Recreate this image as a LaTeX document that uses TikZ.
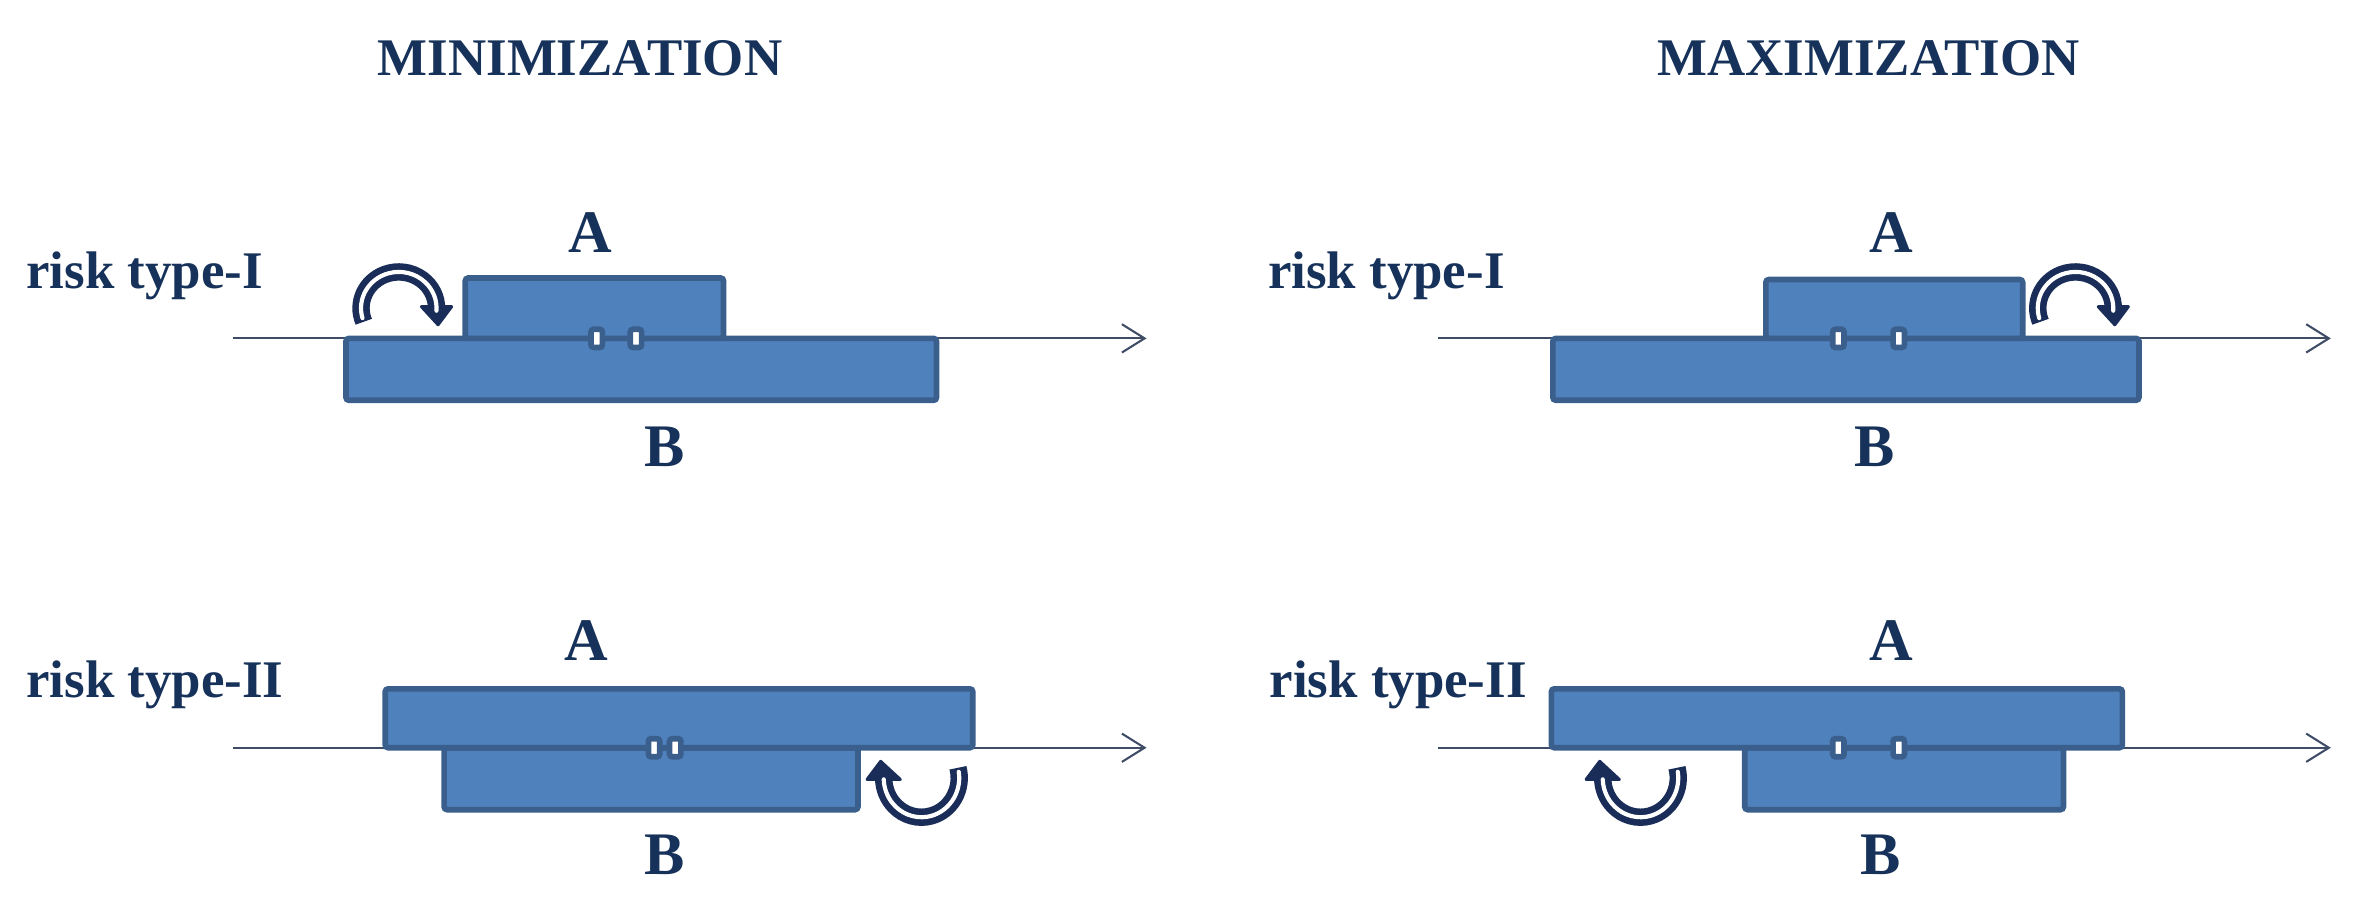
\documentclass[tikz,border=0pt]{standalone}
\usepackage{fontspec}
\setmainfont{Liberation Serif}
\usetikzlibrary{arrows.meta}
\definecolor{boxfill}{HTML}{4F81BD}
\definecolor{boxline}{HTML}{3A5F8C}
\definecolor{navytext}{HTML}{17325A}
\definecolor{navyarrow}{HTML}{1A2D58}
\definecolor{axisline}{HTML}{3E4C66}
\begin{document}
\begin{tikzpicture}[x=0.4pt,y=-0.4pt,
  titlelbl/.style={font=\fontsize{14}{16}\selectfont\bfseries, text=navytext, inner sep=0pt, anchor=base},
  risklbl/.style={font=\fontsize{14}{16}\selectfont\bfseries, text=navytext, inner sep=0pt, anchor=base west},
  ablbl/.style={font=\fontsize{16}{18}\selectfont\bfseries, text=navytext, inner sep=0pt, anchor=base},
  axisarrow/.style={draw=axisline, line width=0.55pt, -{Straight Barb[length=6pt,width=7.5pt]}},
  blockbox/.style={fill=boxfill, draw=boxline, line width=1.5pt, rounded corners=0.8pt},
  tickmark/.style={draw=boxline, fill=white, line width=1.5pt, minimum width=3pt, minimum height=4.8pt, inner sep=0pt, rounded corners=0.7pt},
  band/.style={draw=navyarrow, line width=4.6pt},
  stripe/.style={draw=white, line width=1.1pt, line cap=round},
  headtip/.style={fill=navyarrow, draw=navyarrow, line width=0.8pt, line join=round}
]
\path[use as bounding box] (0,0) rectangle (1563,595);

% titles
\node[titlelbl] (titleL) at (384,50) {MINIMIZATION};
\node[titlelbl] (titleR) at (1237,50) {MAXIMIZATION};

% axes
\coordinate (axTLs) at (154,224); \coordinate (axTLe) at (759,224);
\coordinate (axTRs) at (952,224); \coordinate (axTRe) at (1543,224);
\coordinate (axBLs) at (154,495); \coordinate (axBLe) at (759,495);
\coordinate (axBRs) at (952,495); \coordinate (axBRe) at (1543,495);
\draw[axisarrow] (axTLs) -- (axTLe);
\draw[axisarrow] (axTRs) -- (axTRe);
\draw[axisarrow] (axBLs) -- (axBLe);
\draw[axisarrow] (axBRs) -- (axBRe);

% top-left panel
\draw[blockbox] (229,224) rectangle (620,265);
\draw[blockbox] (308,184) rectangle (479,224);
\node[tickmark] (mTL1) at (395,224) {};
\node[tickmark] (mTL2) at (421,224) {};
\coordinate (cTL) at (264,204);
\draw[band] (cTL) ++(158:25 and 24) arc[start angle=158, end angle=362, x radius=25, y radius=24];
\draw[headtip] (cTL) ++(15,-1) -- ++(20,0) -- ++(-9,12) -- cycle;
\draw[stripe] (cTL) ++(164:25 and 24) arc[start angle=164, end angle=364, x radius=25, y radius=24];
\node[risklbl] (rTL) at (17,191) {risk type-I};
\node[ablbl] (aTL) at (391,167) {A};
\node[ablbl] (bTL) at (440,309) {B};

% top-right panel
\draw[blockbox] (1028,224) rectangle (1416,265);
\draw[blockbox] (1169,185) rectangle (1339,224);
\node[tickmark] (mTR1) at (1217,224) {};
\node[tickmark] (mTR2) at (1257,224) {};
\coordinate (cTR) at (1374,204);
\draw[band] (cTR) ++(158:25 and 24) arc[start angle=158, end angle=362, x radius=25, y radius=24];
\draw[headtip] (cTR) ++(15,-1) -- ++(20,0) -- ++(-9,12) -- cycle;
\draw[stripe] (cTR) ++(164:25 and 24) arc[start angle=164, end angle=364, x radius=25, y radius=24];
\node[risklbl] (rTR) at (839,191) {risk type-I};
\node[ablbl] (aTR) at (1252,167) {A};
\node[ablbl] (bTR) at (1241,309) {B};

% bottom-left panel
\draw[blockbox] (294,495) rectangle (568,536);
\draw[blockbox] (255,456) rectangle (644,495);
\node[tickmark] (mBL1) at (433,495) {};
\node[tickmark] (mBL2) at (447,495) {};
\coordinate (cBL) at (610,515);
\draw[band] (cBL) ++(-15:25 and 26) arc[start angle=-15, end angle=180, x radius=25, y radius=26];
\draw[headtip] (cBL) ++(-36,1) -- ++(22,0) -- ++(-13,-12) -- cycle;
\draw[stripe] (cBL) ++(-9:25 and 26) arc[start angle=-9, end angle=178, x radius=25, y radius=26];
\node[risklbl] (rBL) at (17,462) {risk type-II};
\node[ablbl] (aBL) at (388,437) {A};
\node[ablbl] (bBL) at (440,579) {B};

% bottom-right panel
\draw[blockbox] (1155,495) rectangle (1366,536);
\draw[blockbox] (1027,456) rectangle (1405,495);
\node[tickmark] (mBR1) at (1217,495) {};
\node[tickmark] (mBR2) at (1257,495) {};
\coordinate (cBR) at (1086,515);
\draw[band] (cBR) ++(-15:25 and 26) arc[start angle=-15, end angle=180, x radius=25, y radius=26];
\draw[headtip] (cBR) ++(-36,1) -- ++(22,0) -- ++(-13,-12) -- cycle;
\draw[stripe] (cBR) ++(-9:25 and 26) arc[start angle=-9, end angle=178, x radius=25, y radius=26];
\node[risklbl] (rBR) at (840,462) {risk type-II};
\node[ablbl] (aBR) at (1252,437) {A};
\node[ablbl] (bBR) at (1245,579) {B};
\end{tikzpicture}
\end{document}
